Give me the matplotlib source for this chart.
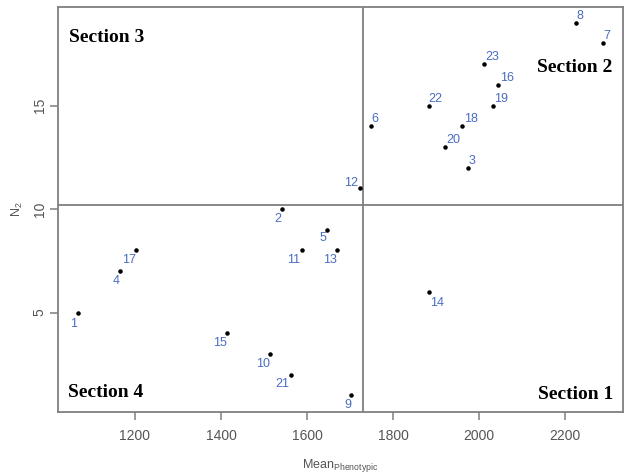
import matplotlib
matplotlib.use("Agg")
import matplotlib.pyplot as plt

# genotype id, mean phenotypic value, N2
ids = ["1", "2", "3", "4", "5", "6", "7", "8", "9", "10", "11", "12",
       "13", "14", "15", "16", "17", "18", "19", "20", "21", "22", "23"]
mean_pheno = [1067, 1541, 1974, 1165, 1646, 1749, 2288, 2226, 1702, 1513, 1588, 1723,
              1669, 1884, 1413, 2045, 1203, 1961, 2033, 1921, 1562, 1883, 2012]
n2 = [5, 10, 12, 7, 9, 14, 18, 19, 1, 3, 8, 11,
      8, 6, 4, 16, 8, 14, 15, 13, 2, 15, 17]

# quadrant split lines
x_split = 1730
y_split = 10.2

xticks = [1200, 1400, 1600, 1800, 2000, 2200]
yticks = [5, 10, 15]

# label offsets (points) for each id
label_off = [(-3, -8), (-3, -7), (3, 5), (-3, -7), (-3, -6), (3, 5), (3, 5), (3, 5),
             (-2, -7), (-5, -7), (-6, -7), (-6, 4), (-5, -7), (6, -8), (-5, -7),
             (6, 5), (-5, -7), (6, 5), (6, 5), (6, 5), (-6, -7), (5, 5), (6, 5)]

narrow = ["Liberation Sans Narrow", "Liberation Sans", "DejaVu Sans"]
blue = "#4a6cc0"
grey = "#7f7f7f"

fig = plt.figure(figsize=(6.25, 4.75), dpi=100)
ax = fig.add_axes([0.0928, 0.1326, 0.904, 0.8527])

ax.scatter(mean_pheno, n2, s=5, color="black", zorder=3)
for i in range(len(ids)):
    dx, dy = label_off[i]
    ax.annotate(ids[i], (mean_pheno[i], n2[i]), xytext=(dx, dy), textcoords="offset points",
                ha="center", va="center", color=blue, fontsize=9, family=narrow)

ax.axvline(x_split, color=grey, lw=1.3)
ax.axhline(y_split, color=grey, lw=1.3)

ax.set_xlim(1021, 2335)
ax.set_ylim(0.2, 19.76)
ax.set_xticks(xticks)
ax.set_yticks(yticks)
ax.set_xticklabels([str(v) for v in xticks], family=narrow, fontsize=10, color="#555555")
ax.set_yticklabels([str(v) for v in yticks], family=narrow, fontsize=10, color="#555555",
                   rotation=90, va="center")
ax.tick_params(direction="out", length=6, color=grey, width=1.1)
ax.tick_params(axis="x", pad=6)
ax.tick_params(axis="y", pad=2)
for sp in ax.spines.values():
    sp.set_color(grey)
    sp.set_linewidth(1.3)

ax.set_xlabel(r"$\mathregular{Mean_{Phenotypic}}$", fontsize=9, family=narrow,
              color="#555555", labelpad=10)
ax.set_ylabel(r"$\mathregular{N_2}$", fontsize=9, family=narrow, color="#555555", labelpad=6)

sec = dict(fontsize=14, family="Liberation Serif", weight="bold", color="black",
           transform=ax.transAxes, va="baseline")
ax.text(0.019, 0.914, "Section 3", ha="left", **sec)
ax.text(0.981, 0.84, "Section 2", ha="right", **sec)
ax.text(0.018, 0.037, "Section 4", ha="left", **sec)
ax.text(0.983, 0.032, "Section 1", ha="right", **sec)

fig.savefig("out.png", dpi=100)
